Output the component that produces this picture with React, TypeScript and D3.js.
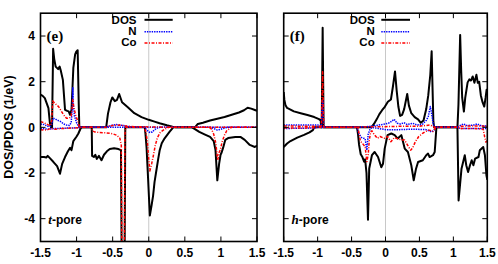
import React from 'react';
import * as d3 from 'd3';

type P = [number, number];

// ---------- Panel (e): t-pore ----------
const eDosUp: P[] = [
  [-1.5, 1.43], [-1.47, 1.38], [-1.44, 1.28], [-1.39, 0.84], [-1.37, 0.19], [-1.355, 0], [-1.34, 0],
  [-1.325, 3.44], [-1.31, 3.0], [-1.29, 2.66], [-1.255, 2.55], [-1.235, 2.66], [-1.22, 2.5], [-1.19, 2.08],
  [-1.16, 0.77], [-1.13, 0.72], [-1.11, 0.7], [-1.09, 0.55], [-1.07, 0.77], [-1.045, 2.6], [-1.02, 3.2],
  [-1.007, 3.3], [-0.985, 3.38], [-0.97, 1.0], [-0.962, 0],
  [-0.59, 0], [-0.565, 0.6], [-0.53, 1.1], [-0.505, 1.31], [-0.47, 1.15], [-0.44, 1.2], [-0.41, 1.46],
  [-0.37, 1.1], [-0.29, 0.88], [-0.2, 0.62], [-0.1, 0.45], [0, 0.33], [0.08, 0.25], [0.15, 0.18],
  [0.25, 0.09], [0.33, 0.03], [0.38, 0],
  [0.64, 0], [0.68, 0.15], [0.75, 0.2], [0.85, 0.3], [0.95, 0.38], [1.05, 0.45], [1.15, 0.55],
  [1.25, 0.65], [1.32, 0.75], [1.37, 0.86], [1.42, 0.82], [1.47, 0.76], [1.5, 0.72],
];
const eDosDown: P[] = [
  [-1.5, -1.3], [-1.45, -1.3], [-1.42, -1.32], [-1.4, -1.25], [-1.37, -1.35], [-1.32, -1.52],
  [-1.27, -1.7], [-1.23, -2.03], [-1.2, -1.6], [-1.16, -1.3], [-1.12, -1.05], [-1.09, -0.9],
  [-1.07, -1.0], [-1.045, -0.6], [-1.0, -0.4], [-0.975, -0.27], [-0.945, -0.05], [-0.93, 0],
  [-0.79, 0], [-0.785, -1.25], [-0.76, -1.3], [-0.74, -1.2], [-0.72, -1.38], [-0.69, -1.25],
  [-0.655, -1.44], [-0.62, -1.2], [-0.58, -1.05], [-0.54, -0.95], [-0.48, -0.92], [-0.42, -0.95],
  [-0.385, -1.0], [-0.375, -6], [-0.335, -6], [-0.325, 0],
  [-0.055, 0], [-0.045, -0.3], [-0.03, -0.9], [-0.01, -2.2], [0.015, -3.86], [0.04, -3.4],
  [0.06, -3.0], [0.08, -2.4], [0.106, -1.88], [0.13, -1.4], [0.152, -1.0], [0.18, -0.7],
  [0.22, -0.48], [0.29, -0.19], [0.34, 0],
  [0.6, 0], [0.64, -0.08], [0.7, -0.2], [0.78, -0.32], [0.85, -0.42], [0.9, -0.6], [0.925, -1.0],
  [0.95, -2.32], [0.975, -1.6], [0.995, -1.2], [1.01, -1.1], [1.03, -0.9], [1.06, -0.55],
  [1.1, -0.47], [1.2, -0.42], [1.27, -0.42], [1.33, -0.55], [1.4, -0.77], [1.47, -0.86], [1.5, -0.8],
];
const eNUp: P[] = [
  [-1.5, 0.15], [-1.45, 0.12], [-1.4, 0.05], [-1.36, 0.05], [-1.34, 0.15], [-1.325, 0.4], [-1.3, 0.38],
  [-1.27, 0.32], [-1.22, 0.25], [-1.18, 0.15], [-1.14, 0.1], [-1.1, 0.08], [-1.075, 0.2], [-1.06, 0.8],
  [-1.052, 1.74], [-1.045, 1.0], [-1.03, 0.5], [-1.0, 0.2], [-0.98, 0.08], [-0.96, 0],
  [-0.6, 0], [-0.55, 0.05], [-0.5, 0.1], [-0.45, 0.12], [-0.4, 0.1], [-0.35, 0.08], [-0.3, 0.05],
  [-0.25, 0.02], [0, 0], [1.5, 0],
];
const eNDown: P[] = [
  [-1.5, -0.05], [-1.4, -0.08], [-1.3, -0.05], [-1.0, -0.02], [-0.95, 0], [-0.06, 0], [-0.03, -0.1],
  [0.0, -0.2], [0.02, -0.23], [0.05, -0.2], [0.08, -0.1], [0.12, -0.03], [0.16, 0], [0.85, 0],
  [0.9, -0.05], [0.95, -0.12], [1.0, -0.08], [1.05, -0.03], [1.1, 0], [1.5, 0],
];
const eCoUp: P[] = [
  [-1.5, 0.25], [-1.45, 0.2], [-1.4, 0.12], [-1.36, 0.08], [-1.345, 0.3], [-1.33, 1.15], [-1.3, 1.05],
  [-1.25, 0.91], [-1.21, 0.7], [-1.18, 0.55], [-1.14, 0.4], [-1.1, 0.4], [-1.075, 0.5], [-1.06, 0.9],
  [-1.052, 1.22], [-1.04, 0.9], [-1.01, 0.5], [-0.98, 0.25], [-0.96, 0],
  [-0.6, 0], [-0.55, 0.05], [-0.5, 0.08], [-0.4, 0.1], [-0.3, 0.05], [-0.2, 0.03], [0, 0.02],
  [0.3, 0], [1.5, 0],
];
const eCoDown: P[] = [
  [-1.5, -0.1], [-1.45, -0.12], [-1.4, -0.1], [-1.36, -0.05], [-1.3, -0.08], [-1.2, -0.05],
  [-1.0, -0.02], [-0.93, 0], [-0.79, 0], [-0.785, -0.15], [-0.75, -0.2], [-0.7, -0.22], [-0.6, -0.24],
  [-0.5, -0.28], [-0.44, -0.35], [-0.4, -0.48], [-0.38, -0.8], [-0.372, -6], [-0.338, -6],
  [-0.33, -0.3], [-0.32, 0], [-0.06, 0], [-0.04, -0.2], [-0.02, -0.6], [0.0, -1.4], [0.015, -1.91],
  [0.04, -1.6], [0.06, -1.3], [0.09, -0.8], [0.12, -0.45], [0.16, -0.22], [0.22, -0.08], [0.28, 0],
  [0.84, 0], [0.87, -0.08], [0.9, -0.3], [0.93, -0.7], [0.955, -1.44], [0.975, -1.1], [0.99, -1.0],
  [1.02, -0.6], [1.05, -0.34], [1.08, -0.15], [1.12, -0.05], [1.15, 0], [1.5, 0],
];

// ---------- Panel (f): h-pore ----------
const fDosUp: P[] = [
  [-1.5, 1.55], [-1.49, 1.2], [-1.475, 0.98], [-1.45, 0.85], [-1.4, 0.78], [-1.35, 0.7], [-1.25, 0.62],
  [-1.15, 0.54], [-1.05, 0.45], [-0.98, 0.36], [-0.955, 0.3], [-0.948, 0],
  [-0.94, 0], [-0.926, 4.36], [-0.912, 0],
  [-0.21, 0], [-0.17, 0.15], [-0.13, 0.35], [-0.09, 0.58], [-0.05, 0.75], [-0.01, 0.9], [0.035, 1.12],
  [0.08, 1.22], [0.11, 1.8], [0.14, 2.45], [0.165, 1.6], [0.19, 0.9], [0.215, 0.5], [0.245, 0.55],
  [0.275, 0.8], [0.32, 1.46], [0.345, 0.95], [0.38, 0.62], [0.43, 0.45], [0.48, 0.35], [0.52, 0.2],
  [0.56, 0.3], [0.6, 0.8], [0.63, 1.4], [0.66, 2.3], [0.68, 3.33], [0.695, 1.5], [0.705, 0.3], [0.715, 0],
  [1.06, 0], [1.075, 1.0], [1.1, 4.05], [1.115, 2.5], [1.13, 1.3], [1.155, 0.69], [1.175, 1.3],
  [1.21, 1.97], [1.235, 2.1], [1.26, 2.05], [1.285, 2.23], [1.31, 1.95], [1.34, 2.3], [1.36, 1.95],
  [1.38, 2.0], [1.405, 1.4], [1.43, 1.1], [1.455, 0.91], [1.475, 1.3], [1.49, 1.65], [1.5, 1.5],
];
const fDosDown: P[] = [
  [-1.5, -0.86], [-1.45, -0.71], [-1.4, -0.6], [-1.3, -0.45], [-1.2, -0.33], [-1.12, -0.22],
  [-1.07, -0.12], [-1.05, 0],
  [-0.42, 0], [-0.405, -0.3], [-0.39, -0.75], [-0.365, -1.18], [-0.34, -1.3], [-0.315, -1.5],
  [-0.3, -1.4], [-0.28, -2.0], [-0.258, -4.05], [-0.24, -1.8], [-0.2, -1.22], [-0.16, -1.08],
  [-0.11, -1.3], [-0.062, -1.75], [-0.037, -1.6], [-0.012, -0.93], [0.03, -0.34], [0.086, -0.27],
  [0.136, -0.34], [0.18, -0.49], [0.233, -0.34], [0.283, -0.93], [0.33, -1.08], [0.38, -1.66],
  [0.416, -2.32], [0.45, -1.81], [0.48, -1.52], [0.55, -1.44], [0.6, -1.22], [0.627, -1.15],
  [0.65, -1.3], [0.7, -1.22], [0.725, -1.08], [0.75, 0],
  [1.06, 0], [1.077, -3.2], [1.12, -1.81], [1.168, -1.22], [1.19, -1.66], [1.217, -1.96],
  [1.245, -1.66], [1.27, -1.44], [1.295, -1.66], [1.32, -1.37], [1.37, -1.3], [1.39, -1.0],
  [1.44, -0.86], [1.465, -1.22], [1.487, -2.1], [1.5, -2.3],
];
const fNUp: P[] = [
  [-1.5, 0.1], [-1.3, 0.1], [-1.0, 0.1], [-0.96, 0.08], [-0.945, 0], [-0.926, 1.2], [-0.91, 0],
  [-0.42, 0], [-0.3, 0.02], [-0.2, 0.05], [-0.1, 0.1], [0, 0.15], [0.06, 0.2], [0.128, 0.35],
  [0.17, 0.18], [0.22, 0.15], [0.275, 0.2], [0.32, 0.12], [0.4, 0.18], [0.45, 0.12], [0.5, 0.1],
  [0.55, 0.15], [0.6, 0.3], [0.63, 0.47], [0.66, 0.91], [0.68, 0.6], [0.7, 0.2], [0.72, 0],
  [1.06, 0], [1.1, 0.08], [1.15, 0.15], [1.2, 0.08], [1.3, 0.1], [1.35, 0.15], [1.4, 0.08], [1.5, 0.05],
];
const fNDown: P[] = [
  [-1.5, -0.05], [-1.05, -0.03], [-1.0, 0], [-0.42, 0], [-0.39, -0.3], [-0.35, -0.45], [-0.3, -0.5],
  [-0.275, -1.0], [-0.255, -0.3], [-0.23, -0.1], [-0.2, 0], [-0.1, -0.05], [0.0, -0.1], [0.2, -0.1],
  [0.4, -0.08], [0.6, -0.1], [0.68, -0.2], [0.72, -0.1], [0.74, 0], [1.06, 0], [1.1, -0.05], [1.5, -0.05],
];
const fCoUp: P[] = [
  [-1.5, 0.06], [-1.2, 0.05], [-0.96, 0.05], [-0.945, 0], [-0.926, 2.43], [-0.91, 0], [-0.42, 0],
  [-0.3, 0.02], [0, 0.03], [0.3, 0.05], [0.5, 0.05], [0.65, 0.1], [0.7, 0.05], [0.72, 0], [1.06, 0],
  [1.1, 0.05], [1.3, 0.06], [1.5, 0.05],
];
const fCoDown: P[] = [
  [-1.5, -0.03], [-1.05, -0.02], [-1.0, 0], [-0.42, 0], [-0.4, -0.1], [-0.37, -0.6], [-0.34, -0.7],
  [-0.3, -0.85], [-0.275, -1.5], [-0.255, -1.2], [-0.24, -0.6], [-0.22, -0.2], [-0.2, -0.15],
  [-0.17, -0.3], [-0.12, -0.48], [-0.08, -0.4], [-0.02, -0.48], [0.03, -0.4], [0.08, -0.63],
  [0.13, -0.45], [0.18, -0.5], [0.23, -0.55], [0.28, -0.55], [0.325, -0.78], [0.37, -1.0],
  [0.4, -0.9], [0.44, -0.63], [0.49, -0.4], [0.54, -0.28], [0.58, -0.2], [0.64, -0.12], [0.7, -0.18],
  [0.72, -0.1], [0.74, 0], [1.06, 0], [1.1, -0.05], [1.3, -0.05], [1.44, -0.08], [1.46, -0.4],
  [1.48, -0.65], [1.5, -0.55],
];

const xTicks = [-1.5, -1, -0.5, 0, 0.5, 1, 1.5];
const xTickLabels = ['-1.5', '-1', '-0.5', '0', '0.5', '1', '1.5'];
const yTicks = [-4, -2, 0, 2, 4];
const yTickLabels = ['-4', '-2', '0', '2', '4'];
const legendLabels = ['DOS', 'N', 'Co'];
const panelTags = ['(e)', '(f)'];
const poreItalic = ['t', 'h'];
const yAxisTitle = 'DOS/PDOS (1/eV)';

const SANS = '"Liberation Sans", Arial, Helvetica, sans-serif';
const SERIF = '"Liberation Serif", "Times New Roman", serif';

const TOP = 13.2;
const BOTTOM = 241.5;

type Series = { up: P[]; down: P[]; color: string; dash?: string; width: number };

function Panel(props: {
  id: string;
  x0: number;
  x1: number;
  series: Series[];
  showYLabels: boolean;
  tag: string;
  pore: string;
  legendTextX: number;
  legendLineX0: number;
  legendLineX1: number;
}) {
  const { id, x0, x1, series, showYLabels, tag, pore, legendTextX, legendLineX0, legendLineX1 } = props;
  const x = d3.scaleLinear().domain([-1.5, 1.5]).range([x0, x1]);
  const y = d3.scaleLinear().domain([-5, 5]).range([BOTTOM, TOP]);
  const line = d3
    .line<P>()
    .x((d) => x(d[0]))
    .y((d) => y(d[1]));
  const tickLen = 5;
  const legendBase = [24.1, 35.2, 46.3];
  const legendLineY = [19.8, 31.8, 43];
  return (
    <g>
      <defs>
        <clipPath id={id}>
          <rect x={x0} y={TOP} width={x1 - x0} height={BOTTOM - TOP} />
        </clipPath>
      </defs>
      <line x1={x(0)} x2={x(0)} y1={TOP} y2={BOTTOM} stroke="#c8c8c8" strokeWidth={1} />
      <g clipPath={`url(#${id})`}>
        {series.map((s, i) => (
          <g key={i}>
            <path d={line(s.up) || ''} fill="none" stroke={s.color} strokeWidth={s.width} strokeDasharray={s.dash} strokeLinejoin="round" />
            <path d={line(s.down) || ''} fill="none" stroke={s.color} strokeWidth={s.width} strokeDasharray={s.dash} strokeLinejoin="round" />
          </g>
        ))}
      </g>
      <rect x={x0} y={TOP} width={x1 - x0} height={BOTTOM - TOP} fill="none" stroke="#000" strokeWidth={1.6} />
      {xTicks.map((t, i) => (
        <g key={'xt' + i}>
          <line x1={x(t)} x2={x(t)} y1={BOTTOM} y2={BOTTOM - tickLen} stroke="#000" strokeWidth={1} />
          <line x1={x(t)} x2={x(t)} y1={TOP} y2={TOP + tickLen} stroke="#000" strokeWidth={1} />
          <text x={x(t)} y={257} textAnchor="middle" fontFamily={SANS} fontWeight="bold" fontSize={12}>
            {xTickLabels[i]}
          </text>
        </g>
      ))}
      {yTicks.map((t, i) => (
        <g key={'yt' + i}>
          <line x1={x0} x2={x0 + tickLen} y1={y(t)} y2={y(t)} stroke="#000" strokeWidth={1} />
          <line x1={x1} x2={x1 - tickLen} y1={y(t)} y2={y(t)} stroke="#000" strokeWidth={1} />
          {showYLabels && (
            <text x={35} y={y(t) + 4.3} textAnchor="end" fontFamily={SANS} fontWeight="bold" fontSize={12}>
              {yTickLabels[i]}
            </text>
          )}
        </g>
      ))}
      {series.map((s, i) => (
        <g key={'lg' + i}>
          <text x={legendTextX} y={legendBase[i]} textAnchor="end" fontFamily={SANS} fontWeight="bold" fontSize={11.5}>
            {legendLabels[i]}
          </text>
          <line
            x1={legendLineX0}
            x2={legendLineX1}
            y1={legendLineY[i]}
            y2={legendLineY[i]}
            stroke={s.color}
            strokeWidth={s.width}
            strokeDasharray={s.dash}
          />
        </g>
      ))}
      <text x={x0 + 6} y={40.5} fontFamily={SERIF} fontWeight="bold" fontSize={15}>
        {tag}
      </text>
      <text x={x0 + 7.8} y={224} fontFamily={SANS} fontWeight="bold" fontSize={12}>
        <tspan fontFamily={SERIF} fontStyle="italic" fontSize={13}>
          {pore}
        </tspan>
        <tspan>-pore</tspan>
      </text>
    </g>
  );
}

export default function App() {
  const mk = (dUp: P[], dDn: P[], nUp: P[], nDn: P[], cUp: P[], cDn: P[]): Series[] => [
    { up: dUp, down: dDn, color: '#000000', width: 2 },
    { up: nUp, down: nDn, color: '#0000ff', dash: '1.4,1', width: 1.5 },
    { up: cUp, down: cDn, color: '#ff0000', dash: '3,1.5,1,1.5', width: 1.5 },
  ];
  return (
    <svg width={498} height={264} style={{ position: 'absolute', left: 0, top: 0, background: '#fff' }}>
      <rect x={0} y={0} width={498} height={264} fill="#fff" />
      <text
        transform="translate(13.3,127) rotate(-90)"
        textAnchor="middle"
        fontFamily={SANS}
        fontWeight="bold"
        fontSize={12.5}
      >
        {yAxisTitle}
      </text>
      <Panel
        id="clipE"
        x0={40.5}
        x1={257}
        series={mk(eDosUp, eDosDown, eNUp, eNDown, eCoUp, eCoDown)}
        showYLabels={true}
        tag={panelTags[0]}
        pore={poreItalic[0]}
        legendTextX={136.5}
        legendLineX0={144.5}
        legendLineX1={172.7}
      />
      <Panel
        id="clipF"
        x0={283.7}
        x1={487.3}
        series={mk(fDosUp, fDosDown, fNUp, fNDown, fCoUp, fCoDown)}
        showYLabels={false}
        tag={panelTags[1]}
        pore={poreItalic[1]}
        legendTextX={374.7}
        legendLineX0={381.3}
        legendLineX1={410}
      />
    </svg>
  );
}
